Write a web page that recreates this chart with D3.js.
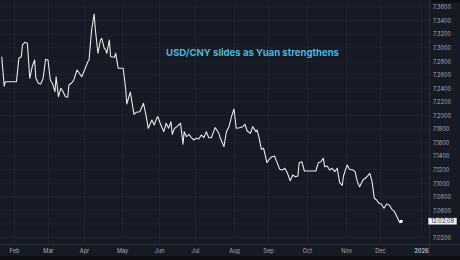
<!DOCTYPE html>
<html>
<head>
<meta charset="utf-8">
<script src="https://cdn.jsdelivr.net/npm/d3@7"></script>
<style>
  html, body { margin:0; padding:0; background:#0e0f13; }
  svg { display:block; }
</style>
</head>
<body>
<script>
// USD/CNY daily closes
const dates = [
  "2025-01-22","2025-01-24","2025-01-25","2025-02-03","2025-02-05","2025-02-07","2025-02-08","2025-02-10",
  "2025-02-12","2025-02-14","2025-02-16","2025-02-18","2025-02-19","2025-02-21","2025-02-23","2025-02-25",
  "2025-02-27","2025-03-01","2025-03-03","2025-03-05","2025-03-07","2025-03-08","2025-03-10","2025-03-12",
  "2025-03-14","2025-03-16","2025-03-18","2025-03-19","2025-03-21","2025-03-23","2025-03-26","2025-03-28",
  "2025-03-30","2025-04-02","2025-04-04","2025-04-05","2025-04-07","2025-04-09","2025-04-10","2025-04-12",
  "2025-04-14","2025-04-15","2025-04-17","2025-04-18","2025-04-19","2025-04-21","2025-04-22","2025-04-25",
  "2025-04-26","2025-04-28","2025-05-02","2025-05-04","2025-05-05","2025-05-08","2025-05-11","2025-05-13",
  "2025-05-16","2025-05-19","2025-05-21","2025-05-23","2025-05-26","2025-05-28","2025-05-30","2025-05-31",
  "2025-06-02","2025-06-05","2025-06-07","2025-06-09","2025-06-11","2025-06-12","2025-06-14","2025-06-16",
  "2025-06-19","2025-06-21","2025-06-22","2025-06-24","2025-06-26","2025-06-28","2025-06-30","2025-07-02",
  "2025-07-04","2025-07-06","2025-07-08","2025-07-10","2025-07-12","2025-07-14","2025-07-17","2025-07-20",
  "2025-07-21","2025-07-24","2025-07-26","2025-07-28","2025-07-30","2025-08-01","2025-08-03","2025-08-06",
  "2025-08-09","2025-08-11","2025-08-13","2025-08-16","2025-08-18","2025-08-21","2025-08-22","2025-08-24",
  "2025-08-26","2025-08-28","2025-08-31","2025-09-02","2025-09-04","2025-09-06","2025-09-08","2025-09-10",
  "2025-09-12","2025-09-14","2025-09-16","2025-09-18","2025-09-20","2025-09-22","2025-09-24","2025-09-25",
  "2025-09-27","2025-09-29","2025-10-08","2025-10-10","2025-10-12","2025-10-14","2025-10-15","2025-10-17",
  "2025-10-19","2025-10-21","2025-10-23","2025-10-25","2025-10-27","2025-10-29","2025-10-30","2025-11-02",
  "2025-11-04","2025-11-07","2025-11-09","2025-11-11","2025-11-13","2025-11-16","2025-11-19","2025-11-22",
  "2025-11-24","2025-11-26","2025-11-28","2025-11-30","2025-12-02","2025-12-04","2025-12-06","2025-12-08",
  "2025-12-10","2025-12-12","2025-12-14","2025-12-16","2025-12-17"
];
const closes = [
  7.2867,7.2435,7.2498,7.2498,7.2843,7.2867,7.3040,7.3079,
  7.3065,7.2548,7.2719,7.2818,7.2548,7.2475,7.2464,7.2548,
  7.2829,7.2818,7.2523,7.2464,7.2351,7.2572,7.2277,7.2401,
  7.2351,7.2277,7.2268,7.2450,7.2475,7.2513,7.2671,7.2622,
  7.2572,7.2696,7.2793,7.2818,7.3261,7.3497,7.3261,7.2917,
  7.3113,7.3138,7.2991,7.2976,7.2917,7.3113,7.2867,7.2858,
  7.2917,7.2696,7.2696,7.2405,7.2169,7.2346,7.2017,7.2047,
  7.2056,7.2180,7.2017,7.1811,7.1933,7.1860,7.1958,7.1982,
  7.1885,7.1761,7.1885,7.1811,7.1908,7.1722,7.1811,7.1835,
  7.1885,7.1575,7.1761,7.1687,7.1722,7.1672,7.1638,7.1663,
  7.1653,7.1712,7.1672,7.1761,7.1672,7.1672,7.1820,7.1737,
  7.1672,7.1540,7.1761,7.1835,7.1982,7.2096,7.1811,7.1820,
  7.1835,7.1870,7.1771,7.1737,7.1835,7.1761,7.1786,7.1663,
  7.1501,7.1516,7.1304,7.1354,7.1392,7.1402,7.1304,7.1206,
  7.1196,7.1221,7.1147,7.1038,7.1122,7.1097,7.1107,7.1304,
  7.1318,7.1181,7.1181,7.1304,7.1318,7.1368,7.1245,7.1255,
  7.1196,7.1221,7.1171,7.1221,7.1009,7.0970,7.1107,7.1270,
  7.1206,7.1196,7.1171,7.1023,7.0950,7.1048,7.1088,7.1147,
  7.1023,7.0778,7.0753,7.0705,7.0694,7.0631,7.0694,7.0680,
  7.0616,7.0581,7.0498,7.0419,7.0439
];
const monthStarts = ["2025-01-01","2025-02-01","2025-03-01","2025-04-01","2025-05-01","2025-06-01",
  "2025-07-01","2025-08-01","2025-09-01","2025-10-01","2025-11-01","2025-12-01","2026-01-01"];
const monthLabels = ["Feb","Mar","Apr","May","Jun","Jul","Aug","Sep","Oct","Nov","Dec","2026"];
const priceTicks = [7.02,7.04,7.06,7.08,7.10,7.12,7.14,7.16,7.18,7.20,7.22,7.24,7.26,7.28,7.30,7.32,7.34,7.36];
const title = "USD/CNY slides as Yuan strengthens";
const countdown = "12:02:09";

const W = 460, H = 260;
const plotRight = 429, plotBottom = 244;
const font = "Inter, 'Liberation Sans', sans-serif";
const parse = d3.timeParse("%Y-%m-%d");
const data = dates.map((d, i) => ({date: parse(d), value: closes[i]}));
const months = monthStarts.map(parse);

// trading-day spacing is uneven, so the month positions are pinned
const x = d3.scaleTime()
  .domain(months)
  .range([-24, 14, 48, 84, 122, 159, 195, 234, 268, 307, 346, 380, 421]);
const y = d3.scaleLinear().domain([7.02, 7.36]).range([237.5, 7]);

const last = data[data.length - 1];
const ly = y(last.value);

const svg = d3.select("body").append("svg").attr("width", W).attr("height", H);

svg.append("rect").attr("width", W).attr("height", 256).attr("fill", "#161a25");
svg.append("rect").attr("y", 256).attr("width", W).attr("height", 4).attr("fill", "#0e0f13");

// grid
const grid = svg.append("g");
grid.selectAll(".hg").data(priceTicks).join("line")
  .attr("x1", 0).attr("x2", plotRight)
  .attr("y1", d => y(d)).attr("y2", d => y(d))
  .attr("stroke", "#1f2330").attr("stroke-width", 1);
grid.selectAll(".vg").data(months.slice(1)).join("line")
  .attr("x1", d => Math.round(x(d)) + 0.5).attr("x2", d => Math.round(x(d)) + 0.5)
  .attr("y1", 0).attr("y2", plotBottom)
  .attr("stroke", "#1f2330").attr("stroke-width", 1);

// axis separators
svg.append("line").attr("x1", plotRight + 0.5).attr("x2", plotRight + 0.5)
  .attr("y1", 0).attr("y2", 256).attr("stroke", "#2a2e39");
svg.append("line").attr("x1", 0).attr("x2", W)
  .attr("y1", plotBottom + 0.5).attr("y2", plotBottom + 0.5).attr("stroke", "#2a2e39");

// price axis (the label hidden under the countdown box is skipped)
const shownTicks = priceTicks.filter(d => Math.abs(y(d) - ly) > 6);
const yAxis = d3.axisRight(y).tickValues(shownTicks).tickFormat(d3.format(".4f")).tickSize(0).tickPadding(0);
const gy = svg.append("g").attr("transform", "translate(" + (plotRight + 4) + ",0)").call(yAxis);
gy.select(".domain").remove();
gy.selectAll("text").attr("fill", "#a9acb5").style("font-family", font).style("font-size", "5.6px");

// time axis
const xAxis = d3.axisBottom(x).tickValues(months.slice(1))
  .tickFormat((d, i) => monthLabels[i]).tickSize(0).tickPadding(0);
const gx = svg.append("g").attr("transform", "translate(0," + 249 + ")").call(xAxis);
gx.select(".domain").remove();
gx.selectAll("text").attr("fill", "#a9acb5").style("font-family", font)
  .style("font-size", "5.6px")
  .style("font-weight", (d, i) => i === monthLabels.length - 1 ? "bold" : "normal");

// price line
const line = d3.line().x(d => x(d.date)).y(d => y(d.value));
svg.append("path").datum(data)
  .attr("d", line)
  .attr("fill", "none")
  .attr("stroke", "#e8e9ec")
  .attr("stroke-width", 1.1)
  .attr("stroke-linejoin", "round");

svg.append("circle").attr("cx", x(last.date)).attr("cy", ly).attr("r", 1.6).attr("fill", "#ffffff");

// last price / countdown label
svg.append("rect").attr("x", plotRight - 1).attr("y", ly - 3.6).attr("width", 29).attr("height", 7.2)
  .attr("fill", "#f0f1f4").attr("stroke", "#131722").attr("stroke-width", 0.6);
svg.append("text").attr("x", plotRight + 13.5).attr("y", ly + 2)
  .attr("text-anchor", "middle").attr("fill", "#1e222d")
  .style("font-family", font).style("font-size", "5.6px")
  .text(countdown);

// top-right corner widget
svg.append("rect").attr("x", 432).attr("y", -4).attr("width", 30).attr("height", 6.5).attr("rx", 1.5).attr("fill", "#0c0d10");

// headline
const t = svg.append("text").attr("x", 252.5).attr("y", 56.3)
  .attr("text-anchor", "middle").attr("fill", "#52b3d9")
  .style("font-family", font).style("font-weight", "bold")
  .style("font-size", "10px").text(title);
const tw = t.node().getComputedTextLength();
t.style("font-size", (10 * 173 / tw) + "px");
</script>
</body>
</html>
